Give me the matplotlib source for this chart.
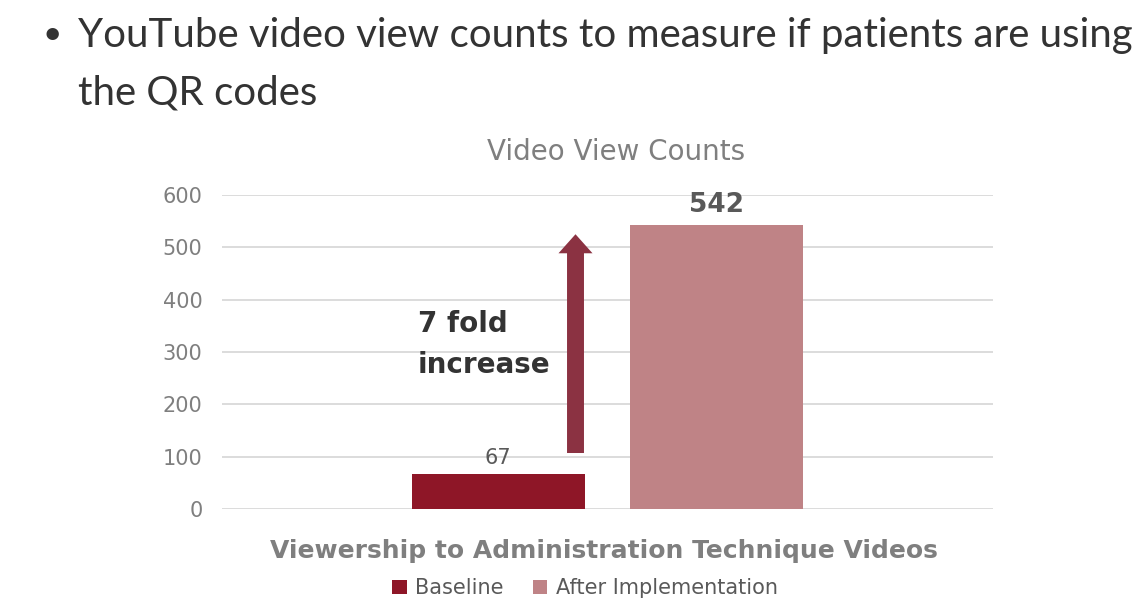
import matplotlib
matplotlib.use("Agg")
import matplotlib.pyplot as plt
import numpy as np

# ---- data ----
categories = ["Viewership to Administration Technique Videos"]
series_names = ["Baseline", "After Implementation"]
baseline = [67]
after = [542]
yticks = [0, 100, 200, 300, 400, 500, 600]
fold_text = "7 fold\nincrease"

W, H = 1144, 604
fig = plt.figure(figsize=(W / 100, H / 100), dpi=100)
fig.patch.set_facecolor("white")

def fx(px):
    return px / W

def fy(py):
    return 1 - py / H

ax = fig.add_axes([fx(222), fy(509), fx(993) - fx(222), fy(195) - fy(509)])

c_base = "#8e1627"
c_after = "#bf8386"
c_arrow = "#8b3242"

x = np.arange(len(categories))
bw = 0.2244
off = 0.142
b1 = ax.bar(x - off, baseline, bw, color=c_base, label=series_names[0], zorder=3)
b2 = ax.bar(x + off, after, bw, color=c_after, label=series_names[1], zorder=3)

ax.set_xlim(-0.5, 0.5)
ax.set_ylim(0, 600)
ax.set_yticks(yticks)
ax.set_xticks([])
for s in ax.spines.values():
    s.set_visible(False)
ax.yaxis.grid(True, color="#d9d9d9", linewidth=1.3, zorder=0)
ax.tick_params(axis="y", length=0, pad=14, labelsize=15, labelcolor="#7f7f7f")

# value labels
ax.text(x[0] - off, baseline[0] + 12, str(baseline[0]), ha="center", va="bottom",
        fontsize=15, color="#595959")
ax.text(x[0] + off, after[0] + 14, str(after[0]), ha="center", va="bottom",
        fontsize=19, fontweight="bold", color="#595959")

# arrow
ax_x = x[0] - 0.0415
ax.annotate("", xy=(ax_x, after[0] - 17), xytext=(ax_x, baseline[0] + 40),
            arrowprops=dict(arrowstyle="simple,head_length=13.7,head_width=24.5,tail_width=12.2",
                            mutation_scale=1, color=c_arrow, shrinkA=0, shrinkB=0,
                            linewidth=0), zorder=4)

ax.text(x[0] - 0.246, 380, fold_text, ha="left", va="top", fontsize=20,
        fontweight="bold", color="#333333", linespacing=1.6)

# chart title
fig.text(fx(616), fy(160), "Video View Counts", ha="center", va="baseline",
         fontsize=20, color="#7f7f7f")
# x label
fig.text(fx(604), fy(558), categories[0], ha="center", va="baseline",
         fontsize=18, fontweight="bold", color="#7f7f7f")

# legend
fig.legend(handles=[b1, b2], labels=series_names, loc="upper center",
           bbox_to_anchor=(fx(585), fy(570)), ncol=2, frameon=False,
           fontsize=15, labelcolor="#595959", handlelength=0.7, handleheight=0.7,
           columnspacing=1.4, handletextpad=0.4, borderaxespad=0.0)

# slide bullet text
fig.text(fx(42), fy(44), "\u2022", ha="left", va="baseline", fontsize=24,
         color="#333333", family="Lato")
fig.text(fx(78), fy(47), "YouTube video view counts to measure if patients are using",
         ha="left", va="baseline", fontsize=29, color="#333333", family="Lato")
fig.text(fx(78), fy(105), "the QR codes", ha="left", va="baseline", fontsize=29,
         color="#333333", family="Lato")

fig.savefig("out.png", dpi=100)
